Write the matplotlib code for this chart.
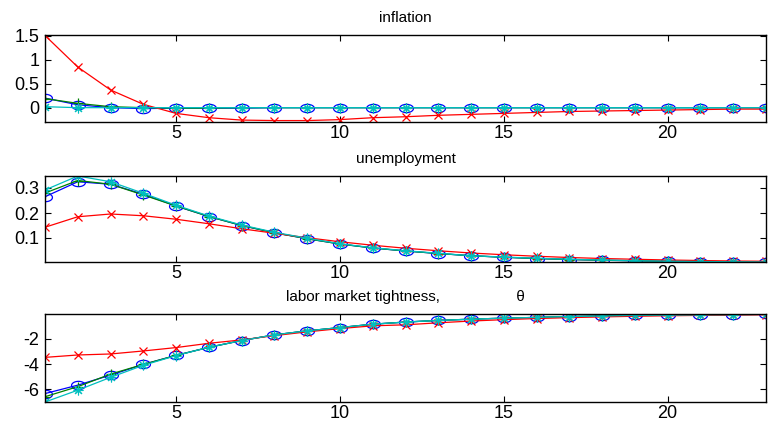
import numpy as np
import matplotlib.pyplot as plt
from matplotlib.path import Path

plt.rcParams.update({'font.family': ['Liberation Sans', 'DejaVu Sans'], 'font.size': 11})

periods = list(range(1, 24))

# inflation
infl_blue = [0.20, 0.06, 0.0, -0.02, -0.01, -0.01, -0.01, 0.0, 0.0, 0.0, 0.0, 0.0,
             0.0, 0.0, 0.0, 0.0, 0.0, 0.0, 0.0, 0.0, 0.0, 0.0, 0.0]
infl_green = [0.19, 0.09, 0.02, 0.0, -0.01, -0.01, 0.0, 0.0, 0.0, 0.0, 0.0, 0.0,
              0.0, 0.0, 0.0, 0.0, 0.0, 0.0, 0.0, 0.0, 0.0, 0.0, 0.0]
infl_red = [1.51, 0.85, 0.37, 0.07, -0.12, -0.21, -0.26, -0.27, -0.27, -0.25, -0.21, -0.19,
            -0.16, -0.14, -0.12, -0.10, -0.08, -0.07, -0.06, -0.05, -0.04, -0.03, -0.03]
infl_cyan = [0.02, 0.0, 0.0, 0.0, 0.0, 0.0, 0.0, 0.0, 0.0, 0.0, 0.0, 0.0,
             0.0, 0.0, 0.0, 0.0, 0.0, 0.0, 0.0, 0.0, 0.0, 0.0, 0.0]

# unemployment
unemp_blue = [0.265, 0.325, 0.315, 0.275, 0.228, 0.186, 0.150, 0.121, 0.097, 0.076, 0.060, 0.048,
              0.038, 0.029, 0.023, 0.018, 0.014, 0.011, 0.009, 0.007, 0.006, 0.005, 0.004]
unemp_green = [0.28, 0.33, 0.315, 0.272, 0.228, 0.186, 0.150, 0.121, 0.097, 0.076, 0.060, 0.048,
               0.038, 0.029, 0.023, 0.018, 0.014, 0.011, 0.009, 0.007, 0.006, 0.005, 0.004]
unemp_red = [0.143, 0.185, 0.196, 0.189, 0.175, 0.157, 0.137, 0.119, 0.101, 0.085, 0.071, 0.059,
             0.049, 0.040, 0.033, 0.027, 0.022, 0.018, 0.015, 0.012, 0.010, 0.008, 0.007]
unemp_cyan = [0.292, 0.348, 0.325, 0.279, 0.231, 0.188, 0.152, 0.123, 0.099, 0.077, 0.061, 0.049,
              0.039, 0.029, 0.024, 0.019, 0.015, 0.012, 0.009, 0.007, 0.006, 0.005, 0.004]

# labor market tightness
theta_blue = [-6.35, -5.68, -4.88, -4.03, -3.31, -2.67, -2.13, -1.68, -1.36, -1.10, -0.83, -0.66,
              -0.53, -0.43, -0.35, -0.29, -0.22, -0.18, -0.13, -0.11, -0.09, -0.07, -0.05]
theta_green = [-6.6, -5.8, -4.8, -4.03, -3.31, -2.67, -2.13, -1.68, -1.36, -1.10, -0.83, -0.66,
               -0.53, -0.43, -0.35, -0.29, -0.22, -0.18, -0.13, -0.11, -0.09, -0.07, -0.05]
theta_red = [-3.47, -3.28, -3.2, -2.96, -2.69, -2.35, -2.08, -1.74, -1.44, -1.18, -0.96, -0.88,
             -0.72, -0.58, -0.47, -0.38, -0.31, -0.25, -0.20, -0.16, -0.13, -0.10, -0.08]
theta_cyan = [-7.02, -6.08, -5.06, -4.1, -3.33, -2.67, -2.13, -1.68, -1.36, -1.10, -0.83, -0.66,
              -0.53, -0.43, -0.35, -0.29, -0.22, -0.18, -0.13, -0.11, -0.09, -0.07, -0.05]

titles = ['inflation', 'unemployment', 'labor market tightness,                  \u03b8']
yticks = [[0, 0.5, 1, 1.5], [0.1, 0.2, 0.3], [-6, -4, -2]]
yticklabels = [['0', '0.5', '1', '1.5'], ['0.1', '0.2', '0.3'], ['-6', '-4', '-2']]
ylims = [(-0.3, 1.52), (0.004, 0.348), (-7.02, -0.02)]
xticks = [5, 10, 15, 20]

panels = [
	(infl_blue, infl_green, infl_red, infl_cyan),
	(unemp_blue, unemp_green, unemp_red, unemp_cyan),
	(theta_blue, theta_green, theta_red, theta_cyan),
]

# squashed circle, as the markers look in the original
t = np.linspace(0, 2 * np.pi, 40)
ellipse = Path(np.column_stack([np.cos(t), 0.6 * np.sin(t)]))

# axes boxes in pixels: (top, bottom)
boxes = [(35, 122), (176, 262), (314, 402)]
W, H = 773, 422
left, right = 45, 766

fig = plt.figure(figsize=(W / 100, H / 100), dpi=100)
for i, (blue, green, red, cyan) in enumerate(panels):
	top, bot = boxes[i]
	ax = fig.add_axes([left / W, 1 - bot / H, (right - left) / W, (bot - top) / H])
	ax.plot(periods, blue, color='blue', marker=ellipse, markersize=10, markerfacecolor='none', lw=0.9, mew=0.9)
	ax.plot(periods, green, color='green', marker='+', markersize=7, lw=0.9, mew=0.9)
	ax.plot(periods, red, color='red', marker='x', markersize=6, lw=0.9, mew=0.9)
	ax.plot(periods, cyan, color='c', marker=(8, 2, 0), markersize=7, lw=0.9, mew=0.8)
	ax.set_xlim(1, 23)
	ax.set_ylim(*ylims[i])
	ax.set_xticks(xticks)
	ax.set_yticks(yticks[i])
	ax.set_yticklabels(yticklabels[i])
	ax.tick_params(direction='in', top=True, right=True, length=4, width=0.8, labelsize=13, pad=4)
	ax.tick_params(axis='x', pad=2)
	for s in ax.spines.values():
		s.set_linewidth(1.0)
	ax.set_title(titles[i], fontsize=11, pad=9)

fig.savefig('out.png', dpi=100)
